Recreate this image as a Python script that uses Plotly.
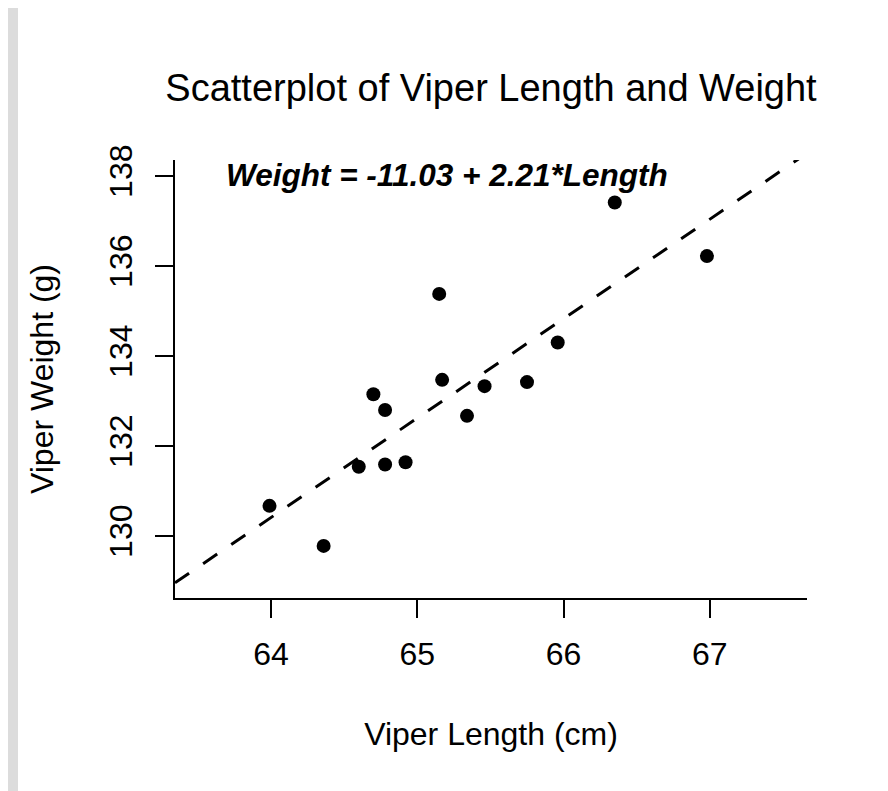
import plotly.graph_objects as go

# ---- data ----
length_cm = [63.99, 64.36, 64.60, 64.70, 64.78, 64.78, 64.92, 65.15, 65.17,
             65.34, 65.46, 65.75, 65.96, 66.35, 66.98]
weight_g = [130.67, 129.78, 131.54, 133.15, 132.80, 131.59, 131.64, 135.38, 133.47,
            132.67, 133.33, 133.42, 134.30, 137.41, 136.22]
intercept = -11.03
slope = 2.21
x_ticks = [64, 65, 66, 67]
y_ticks = [130, 132, 134, 136, 138]
x_range = [63.344, 67.664]
y_range = [128.622, 138.356]
equation_text = "Weight = -11.03 + 2.21*Length"
equation_pos = [65.2, 138.02]

FONT = "Liberation Sans, Arial, sans-serif"
# the page body adds an 8px offset, so the figure is 8px smaller than the window
W, H = 880, 783
L, R, T, B = 167, 81, 152, 193
PW, PH = W - L - R, H - T - B

def px_to_paper_x(px):
    return (px - L) / PW

def py_to_paper_y(py):
    return (H - B - py) / PH

fit_x = [x_range[0], x_range[1]]
fit_y = [intercept + slope * v for v in fit_x]

fig = go.Figure()
fig.add_trace(go.Scatter(
    x=fit_x, y=fit_y, mode="lines",
    line=dict(color="black", width=3, dash="17px,17px"),
    hoverinfo="skip", showlegend=False,
))
fig.add_trace(go.Scatter(
    x=length_cm, y=weight_g, mode="markers",
    marker=dict(color="black", size=14),
    showlegend=False,
))

fig.add_annotation(
    x=equation_pos[0], y=equation_pos[1], xref="x", yref="y",
    text="<b><i>" + equation_text + "</i></b>", showarrow=False,
    font=dict(family=FONT, size=31.5, color="black"),
    xanchor="center", yanchor="middle",
)

# page frame (grey border at left/right)
fig.add_shape(
    type="rect", xref="paper", yref="paper", layer="below",
    x0=px_to_paper_x(10), x1=px_to_paper_x(878),
    y0=py_to_paper_y(H + 5), y1=py_to_paper_y(-5),
    fillcolor="white", line=dict(width=0),
)

fig.update_layout(
    width=W, height=H,
    margin=dict(l=L, r=R, t=T, b=B, pad=0),
    paper_bgcolor="#dcdcdc",
    plot_bgcolor="white",
    font=dict(family=FONT, size=32, color="black"),
    title=dict(
        text="Scatterplot of Viper Length and Weight",
        font=dict(family=FONT, size=38, color="black"),
        x=483 / W, xref="container", xanchor="center",
        y=1 - 80 / H, yref="container", yanchor="middle",
    ),
    showlegend=False,
)

fig.update_xaxes(
    range=x_range, tickvals=x_ticks, ticktext=[str(v) for v in x_ticks],
    showgrid=False, zeroline=False,
    showline=True, linecolor="black", linewidth=2,
    ticks="outside", ticklen=18, tickwidth=2, tickcolor="black",
    ticklabelstandoff=9,
    tickfont=dict(family=FONT, size=32, color="black"),
    title=dict(text="Viper Length (cm)", font=dict(family=FONT, size=32, color="black"), standoff=51),
    automargin=False,
)
fig.update_yaxes(
    range=y_range, tickvals=y_ticks, ticktext=[str(v) for v in y_ticks],
    showgrid=False, zeroline=False,
    showline=True, linecolor="black", linewidth=2,
    ticks="outside", ticklen=18, tickwidth=2, tickcolor="black",
    tickangle=-90, ticklabelstandoff=10,
    tickfont=dict(family=FONT, size=32, color="black"),
    title=dict(text="Viper Weight (g)", font=dict(family=FONT, size=32, color="black"), standoff=40),
    automargin=False,
)

fig.write_html("out.html")
